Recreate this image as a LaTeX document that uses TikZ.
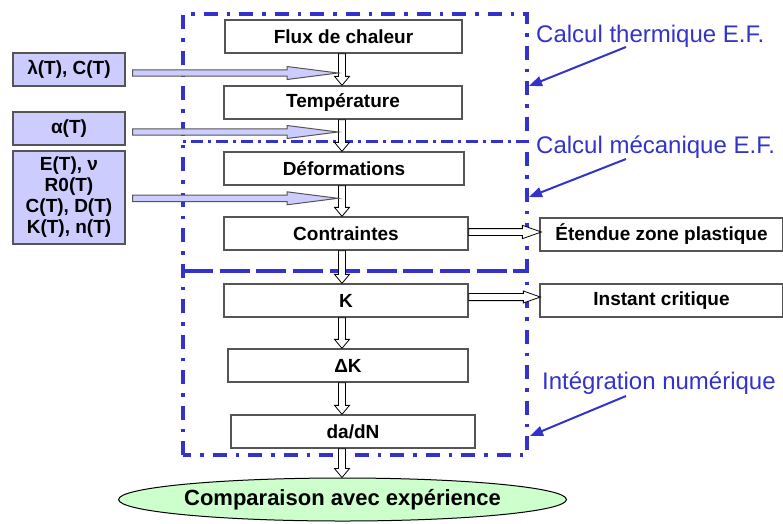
\documentclass[tikz,border=0pt]{standalone}
\usepackage{fontspec}
\setmainfont{Liberation Sans}
\usetikzlibrary{calc,shapes.geometric,arrows.meta}
\definecolor{frameblue}{HTML}{3333CC}
\definecolor{lblue}{HTML}{CCCCFF}
\definecolor{lgreen}{HTML}{CCFFCC}
\definecolor{boxgray}{HTML}{555555}
\newcommand{\vblk}[2]{%
  \draw[whitearrow] let \p1=(#1.south -| spine), \p2=(#2.north -| spine) in
    (\x1-3.5pt,\y1) -- (\x1-3.5pt,\y2+9pt) -- (\x1-7.5pt,\y2+9pt) -- (\x1,\y2)
    -- (\x1+7.5pt,\y2+9pt) -- (\x1+3.5pt,\y2+9pt) -- (\x1+3.5pt,\y1) -- cycle;}
% #1 style, #2 start, #3 end, #4 shaft half, #5 head half, #6 head length
\newcommand{\hblk}[6]{%
  \draw[#1] let \p1=(#2), \p2=(#3) in
    (\x1,\y1+#4pt) -- (\x2-#6pt,\y1+#4pt) -- (\x2-#6pt,\y1+#5pt) -- (\x2,\y1)
    -- (\x2-#6pt,\y1-#5pt) -- (\x2-#6pt,\y1-#4pt) -- (\x1,\y1-#4pt) -- cycle;}
\begin{document}
\begin{tikzpicture}[x=1pt,y=-1pt,
  flowbox/.style={draw=boxgray,line width=1.3pt,fill=white,inner sep=0pt,
    minimum height=33pt,font=\bfseries\fontsize{19}{21}\selectfont},
  parbox/.style={draw=boxgray,line width=1.3pt,fill=lblue,inner sep=0pt,
    minimum width=112pt,align=center,font=\bfseries\fontsize{19}{21}\selectfont},
  whitearrow/.style={draw=black,line width=0.8pt,fill=white,line join=miter},
  bluearrow/.style={draw=boxgray,line width=1pt,fill=lblue,line join=miter},
  bluelabel/.style={inner sep=0pt,anchor=base west,text=frameblue,font=\fontsize{24}{26}\selectfont},
  pointer/.style={draw=frameblue,line width=2pt,-{Triangle[length=13pt,width=10pt]}},
  framethick/.style={draw=frameblue,line width=3.6pt,dash pattern=on 14pt off 9pt on 3.5pt off 9pt},
  framethin/.style={draw=frameblue,line width=3pt,dash pattern=on 3pt off 5pt on 12pt off 5pt},
  framedash/.style={draw=frameblue,line width=3.3pt,dash pattern=on 30pt off 6.7pt}
]
\useasboundingbox (0,0) rectangle (783,523);
\coordinate (spine) at (342,0);

% frames
\draw[framethick] (183,455) -- (183,14) -- (527,14) -- (527,455) -- cycle;
\draw[framethin] (183,141) -- (527,141);
\draw[framedash] (183,271) -- (527,271);

% main chain
\node[flowbox,minimum width=237pt] (flux) at (343.5,36.5) {Flux de chaleur};
\node[flowbox,minimum width=238pt] (temp) at (343,102.5) {Température};
\node[flowbox,minimum width=240pt] (defo) at (344,168.5) {Déformations};
\node[flowbox,minimum width=244pt] (contr) at (346,233.5) {Contraintes};
\node[flowbox,minimum width=244pt] (kk) at (346,300.5) {K};
\node[flowbox,minimum width=240pt] (dk) at (348,365.5) {ΔK};
\node[flowbox,minimum width=244pt] (dadn) at (353,431.5) {da/dN};
\node[draw=black,line width=1pt,fill=lgreen,ellipse,inner sep=0pt,
  minimum width=343pt,minimum height=43pt,
  font=\bfseries\fontsize{22}{24}\selectfont] (comp) at (342.5,499.5) {Comparaison avec expérience};

% side outputs
\node[flowbox,minimum width=243pt] (etendue) at (661.5,234.5) {Étendue zone plastique};
\node[flowbox,minimum width=243pt] (instant) at (661.5,300.5) {Instant critique};

% parameter boxes
\node[parbox,minimum height=33pt] (lam) at (69,69.5) {λ(T), C(T)};
\node[parbox,minimum height=33pt] (alp) at (69,128.5) {α(T)};
\node[parbox,minimum height=93pt] (mech) at (69,197.5) {E(T), ν\\R0(T)\\C(T), D(T)\\K(T), n(T)};

% vertical white block arrows
\vblk{flux}{temp}
\vblk{temp}{defo}
\vblk{defo}{contr}
\vblk{contr}{kk}
\vblk{kk}{dk}
\vblk{dk}{dadn}
\vblk{dadn}{comp}

% horizontal white block arrows
\coordinate (c1s) at ($(contr.east)+(0,-1.5)$);
\coordinate (c1e) at ($(etendue.west)+(2,0)$);
\hblk{whitearrow}{c1s}{c1e}{3.4}{6.7}{19}
\coordinate (c2s) at ($(kk.east)+(0,-3.5)$);
\coordinate (c2e) at ($(instant.west)+(1,0)$);
\hblk{whitearrow}{c2s}{c2e}{3.6}{6}{17}

% blue block arrows from parameters
\coordinate (b1s) at ($(lam.east)+(7,3.5)$);
\coordinate (b1e) at ($(spine |- b1s)+(-4,0)$);
\hblk{bluearrow}{b1s}{b1e}{3.2}{6.5}{51}
\coordinate (b2s) at ($(alp.east)+(7,3.5)$);
\coordinate (b2e) at ($(spine |- b2s)+(-4,0)$);
\hblk{bluearrow}{b2s}{b2e}{3.2}{6.5}{51}
\coordinate (b3s) at ($(mech.east)+(7,0.8)$);
\coordinate (b3e) at ($(spine |- b3s)+(-4,0)$);
\hblk{bluearrow}{b3s}{b3e}{3.2}{6.5}{51}

% labels and pointers
\node[bluelabel] (lth) at (536,42) {Calcul thermique E.F.};
\node[bluelabel] (lme) at (536,153.5) {Calcul mécanique E.F.};
\node[bluelabel] (lin) at (542,389) {Intégration numérique};
\coordinate (p1s) at (626,47);  \coordinate (p1e) at (529,86);
\coordinate (p2s) at (626,159); \coordinate (p2e) at (529,197);
\coordinate (p3s) at (626,396); \coordinate (p3e) at (530,436);
\draw[pointer] (p1s) -- (p1e);
\draw[pointer] (p2s) -- (p2e);
\draw[pointer] (p3s) -- (p3e);
\end{tikzpicture}
\end{document}
